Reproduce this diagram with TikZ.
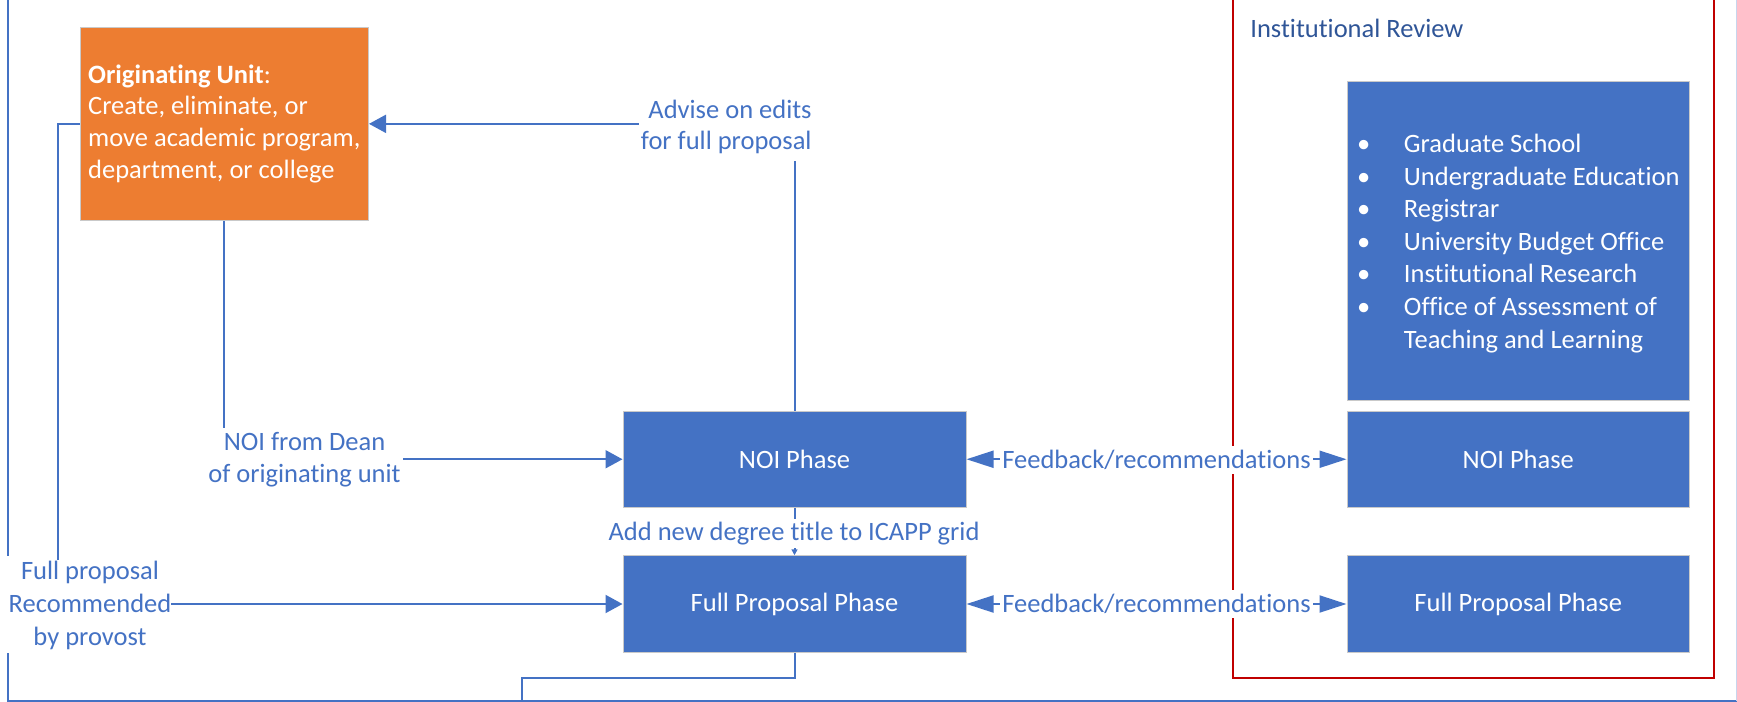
\documentclass[tikz,border=0pt]{standalone}
\usepackage{fontspec}
\setmainfont{Carlito}[Ligatures=NoCommon]
\usetikzlibrary{arrows.meta}
\definecolor{ofblue}{HTML}{4472C4}
\definecolor{oforange}{HTML}{ED7D31}
\definecolor{ofred}{HTML}{C00000}
\definecolor{ofnavy}{HTML}{2F5597}
\definecolor{boxedge}{HTML}{C9C9C9}
\begin{document}
\begin{tikzpicture}[x=0.5pt,y=-0.5pt,
  every node/.style={font=\fontsize{13.25pt}{15.9pt}\selectfont},
  box/.style={draw=boxedge, line width=0.5pt, fill=ofblue, text=white, inner sep=0pt, align=center},
  obox/.style={box, fill=oforange, align=left},
  conn/.style={draw=ofblue, line width=1pt},
  bigtip/.style={-{Triangle[length=8.5pt,width=9pt]}},
  fbtip/.style={{Triangle[length=13.5pt,width=8.5pt]}-{Triangle[length=13.5pt,width=8.5pt]}},
  smalltip/.style={-{Triangle[length=3pt,width=3pt]}},
  lbl/.style={fill=white, text=ofblue, inner xsep=1pt, inner ysep=2.5pt, align=center},
]
\useasboundingbox (0,0) rectangle (1737,702);
\clip (0,0) rectangle (1737,702);

% outer frame
\draw[ofblue, line width=1pt] (7.5,-10) -- (7.5,556);
\draw[ofblue, line width=1pt] (7.5,653) -- (7.5,700.5) -- (1736.5,700.5);
\draw[ofblue!30, line width=1pt] (1736.5,700.5) -- (1736.5,-10);

% institutional review frame
\draw[ofred, line width=1pt] (1233,-10) rectangle (1713.7,677.7);
\node[anchor=west, text=ofnavy, inner sep=0pt] (irtitle) at (1250,28) {Institutional Review};

% boxes
\node[obox, minimum width=144.25pt, minimum height=96.85pt] (orange) at (224.25,123.85)
  {\textbf{Originating Unit}:\\Create, eliminate, or\\move academic program,\\department, or college};
\node[box, minimum width=171.5pt, minimum height=48.25pt] (noiL) at (794.5,459.25) {NOI Phase};
\node[box, minimum width=171.5pt, minimum height=48.25pt] (fullL) at (794.5,604) {Full Proposal Phase};
\node[box, minimum width=171.25pt, minimum height=159.25pt, align=left,
  font=\fontsize{13.25pt}{16.3pt}\selectfont] (list) at (1518.25,240.75)
  {\rule{0pt}{11.8pt}\makebox[23.5pt][l]{\textbullet}Graduate School\\
   \makebox[23.5pt][l]{\textbullet}Undergraduate Education\\
   \makebox[23.5pt][l]{\textbullet}Registrar\\
   \makebox[23.5pt][l]{\textbullet}University Budget Office\\
   \makebox[23.5pt][l]{\textbullet}Institutional Research\\
   \makebox[23.5pt][l]{\textbullet}Office of Assessment of\\
   \hspace*{23.5pt}Teaching and Learning};
\node[box, minimum width=171.25pt, minimum height=48.25pt] (noiR) at (1518.25,459.25) {NOI Phase};
\node[box, minimum width=171.25pt, minimum height=48.25pt] (fullR) at (1518.25,604) {Full Proposal Phase};

% connectors
\draw[conn, bigtip] (noiL.north) |- (orange.east);
\draw[conn, bigtip] (orange.south) |- (noiL.west);
\draw[conn, bigtip] (orange.west) -- ++(-22,0) |- (fullL.west);
\draw[conn, smalltip] (noiL.south) -- (fullL.north);
\draw[conn, fbtip] (noiL.east) -- (noiR.west);
\draw[conn, fbtip] (fullL.east) -- (fullR.west);
\coordinate (fb) at (522,701);
\draw[conn] (fullL.south) -- ++(0,25) -| (fb);

% labels
\node[lbl, anchor=east, align=right, inner ysep=3.5pt] (advise) at (814,127) {Advise on edits\\for full proposal};
\node[lbl] (dean) at (304.5,460) {NOI from Dean\\of originating unit};
\node[lbl, font=\fontsize{13.25pt}{16.5pt}\selectfont, inner ysep=0.5pt, inner xsep=0pt] (prov) at (90,605.5) {Full proposal\\Recommended\\by provost};
\node[lbl, inner ysep=1.5pt] (icapp) at (794,533.5) {Add new degree title to ICAPP grid};
\node[lbl, inner ysep=2pt] (fb1) at (1156.5,460) {Feedback/recommendations};
\node[lbl, inner ysep=2pt] (fb2) at (1156.5,604) {Feedback/recommendations};
\end{tikzpicture}
\end{document}
